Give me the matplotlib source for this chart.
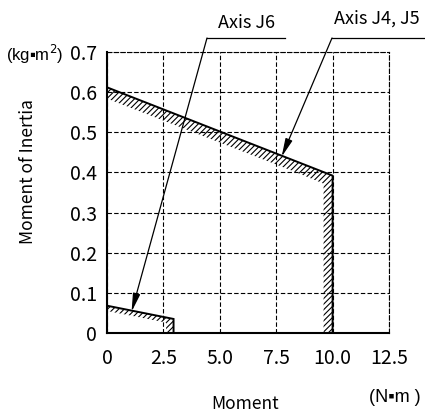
import matplotlib
matplotlib.use("Agg")
import matplotlib.pyplot as plt
from matplotlib.patches import Polygon
from matplotlib.lines import Line2D

plt.rcParams['font.family'] = ['Noto Sans CJK JP', 'DejaVu Sans']
plt.rcParams['hatch.linewidth'] = 0.8

# ---- data ----
x_ticks = [0, 2.5, 5.0, 7.5, 10.0, 12.5]
x_tick_labels = ["0", "2.5", "5.0", "7.5", "10.0", "12.5"]
y_ticks = [0, 0.1, 0.2, 0.3, 0.4, 0.5, 0.6, 0.7]
y_tick_labels = ["0", "0.1", "0.2", "0.3", "0.4", "0.5", "0.6", "0.7"]

# Axis J4, J5 allowable limit (outer boundary) and inner hatch edge
j45_x = [0, 10.0, 10.0]
j45_y = [0.612, 0.392, 0.0]
j45_inner_x = [9.6, 9.6, 8.4, 0]
j45_inner_y = [0.0, 0.372, 0.400, 0.584]

# Axis J6
j6_x = [0, 2.95, 2.95]
j6_y = [0.068, 0.035, 0.0]
j6_inner_x = [2.62, 2.62, 0]
j6_inner_y = [0.0, 0.026, 0.055]

# annotation arrow tips (data)
j6_tip = (1.09, 0.053)
j45_tip = (7.74, 0.439)

W, H = 425, 416
fig = plt.figure(figsize=(W / 100, H / 100), dpi=100)
ax = fig.add_axes([107 / W, (H - 333) / H, (389 - 107) / W, (333 - 52) / H])
ax.set_xlim(0, 12.5)
ax.set_ylim(0, 0.7)
ax.set_xticks(x_ticks)
ax.set_xticklabels(x_tick_labels)
ax.set_yticks(y_ticks)
ax.set_yticklabels(y_tick_labels)
ax.tick_params(length=0, labelsize=14)
ax.tick_params(axis='x', pad=11)
ax.tick_params(axis='y', pad=7)

ax.grid(True, color='black', linestyle=(0, (4, 2)), linewidth=0.8)
for s in ['top', 'right']:
    ax.spines[s].set_linestyle((0, (4, 2)))
    ax.spines[s].set_linewidth(0.8)
for s in ['left', 'bottom']:
    ax.spines[s].set_linewidth(1.5)

def band(ox, oy, ix, iy):
    pts = list(zip(ox, oy)) + list(zip(ix, iy))
    p = Polygon(pts, closed=True, facecolor='none', edgecolor='black',
                linewidth=0, hatch='//////', zorder=3)
    ax.add_patch(p)
    ax.plot(ox, oy, color='black', linewidth=1.4, zorder=4,
            solid_joinstyle='miter')

band(j45_x, j45_y, j45_inner_x, j45_inner_y)
band(j6_x, j6_y, j6_inner_x, j6_inner_y)

# annotations (figure pixel coordinates measured from top-left)
def fp(x, y):
    return (x / W, (H - y) / H)

fig.text(*fp(247, 23), "Axis J6", ha='center', va='center', fontsize=13)
fig.add_artist(Line2D([fp(207, 38)[0], fp(285, 38)[0]], [fp(207, 38)[1]] * 2,
                      color='black', linewidth=0.9))
fig.text(*fp(377, 19), "Axis J4, J5", ha='center', va='center', fontsize=13)
fig.add_artist(Line2D([fp(332, 38)[0], fp(425, 38)[0]], [fp(332, 38)[1]] * 2,
                      color='black', linewidth=0.9))

arrow = dict(arrowstyle='-|>,head_length=1.1,head_width=0.22', color='black',
             linewidth=0.9, shrinkA=0, shrinkB=0, mutation_scale=10)
ax.annotate('', xy=j6_tip, xycoords='data', xytext=fp(207, 38),
            textcoords='figure fraction', arrowprops=arrow, annotation_clip=False)
ax.annotate('', xy=j45_tip, xycoords='data', xytext=fp(332, 38),
            textcoords='figure fraction', arrowprops=arrow, annotation_clip=False)

unit_font = ['Liberation Sans', 'DejaVu Sans']
fig.text(*fp(35, 54), "(kg\u25aam$^2$)", ha='center', va='center',
         fontsize=12, family=unit_font)
fig.text(*fp(28, 172), "Moment of Inertia", ha='center', va='center',
         rotation=90, fontsize=12.5)
fig.text(*fp(245, 404), "Moment", ha='center', va='center', fontsize=12.5)
fig.text(*fp(395, 397), "(N\u25aam )", ha='center', va='center',
         fontsize=13, family=unit_font)

fig.savefig("out.png", dpi=100)
